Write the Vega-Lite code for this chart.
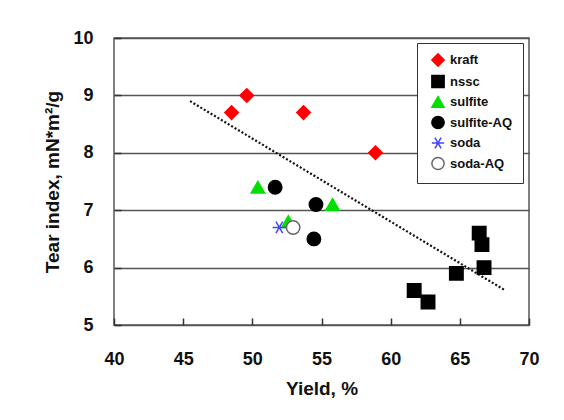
{
  "$schema": "https://vega.github.io/schema/vega-lite/v6.json",
  "width": 415,
  "height": 287,
  "autosize": {"type": "none"},
  "padding": {"left": 114, "top": 38, "right": 35, "bottom": 95},
  "background": "white",
  "config": {
    "font": "Liberation Sans",
    "view": {"stroke": "#555", "strokeWidth": 1.5}
  },
  "layer": [
    {
      "data": {
        "values": [
          {"process": "kraft", "yield": 48.5, "tear": 8.7},
          {"process": "kraft", "yield": 49.6, "tear": 9.0},
          {"process": "kraft", "yield": 53.7, "tear": 8.7},
          {"process": "kraft", "yield": 58.9, "tear": 8.0},
          {"process": "nssc", "yield": 61.7, "tear": 5.6},
          {"process": "nssc", "yield": 62.7, "tear": 5.4},
          {"process": "nssc", "yield": 64.75, "tear": 5.9},
          {"process": "nssc", "yield": 66.4, "tear": 6.6},
          {"process": "nssc", "yield": 66.6, "tear": 6.4},
          {"process": "nssc", "yield": 66.75, "tear": 6.0},
          {"process": "sulfite", "yield": 50.4, "tear": 7.4},
          {"process": "sulfite", "yield": 55.8, "tear": 7.1},
          {"process": "sulfite", "yield": 52.6, "tear": 6.8},
          {"process": "sulfite-AQ", "yield": 51.65, "tear": 7.4},
          {"process": "sulfite-AQ", "yield": 54.6, "tear": 7.1},
          {"process": "sulfite-AQ", "yield": 54.45, "tear": 6.5},
          {"process": "soda", "yield": 51.95, "tear": 6.7},
          {"process": "soda-AQ", "yield": 52.95, "tear": 6.7}
        ]
      },
      "mark": {"type": "point", "size": 180, "strokeWidth": 1.5, "opacity": 1, "fillOpacity": 1},
      "encoding": {
        "x": {
          "field": "yield", "type": "quantitative",
          "scale": {"domain": [40, 70], "nice": false, "zero": false},
          "axis": {
            "title": "Yield, %",
            "values": [40, 42.5, 45, 47.5, 50, 52.5, 55, 57.5, 60, 62.5, 65, 67.5, 70],
            "labelExpr": "datum.value % 5 === 0 ? format(datum.value, 'd') : ''",
            "grid": false, "domain": false,
            "offset": -7,
            "ticks": true, "tickSize": 7, "tickColor": "#333333", "tickWidth": 1.5, "tickOpacity": 1,
            "labelFontSize": 18, "labelFontWeight": "bold", "labelColor": "#111",
            "labelPadding": 25, "labelFlush": false,
            "titleFontSize": 19, "titleFontWeight": "bold", "titleColor": "#111",
            "titlePadding": 11,
            "zindex": 1
          }
        },
        "y": {
          "field": "tear", "type": "quantitative",
          "scale": {"domain": [5, 10], "nice": false, "zero": false},
          "axis": {
            "title": "Tear index, mN*m²/g",
            "values": [5, 5.5, 6, 6.5, 7, 7.5, 8, 8.5, 9, 9.5, 10],
            "labelExpr": "datum.value % 1 === 0 ? format(datum.value, 'd') : ''",
            "grid": true, "gridColor": "#555", "gridWidth": 1.5,
            "gridOpacity": {"condition": {"test": "datum.value % 1 === 0", "value": 1}, "value": 0},
            "domain": false,
            "offset": -7,
            "ticks": true, "tickSize": 7, "tickColor": "#333333", "tickWidth": 1.5, "tickOpacity": 1,
            "labelFontSize": 18, "labelFontWeight": "bold", "labelColor": "#111",
            "labelPadding": 21, "labelFlush": false,
            "titleFontSize": 19, "titleFontWeight": "bold", "titleColor": "#111",
            "titlePadding": 10
          }
        },
        "shape": {
          "field": "process", "type": "nominal",
          "scale": {
            "domain": ["kraft", "nssc", "sulfite", "sulfite-AQ", "soda", "soda-AQ"],
            "range": ["diamond", "square", "triangle-up", "circle", "M-1,0L1,0M-0.5,-0.866L0.5,0.866M-0.5,0.866L0.5,-0.866", "circle"]
          },
          "legend": {
            "title": null,
            "orient": "none", "legendX": 303, "legendY": 5,
            "strokeColor": "#333", "fillColor": "white",
            "padding": 10, "rowPadding": 1.5,
            "labelFontSize": 13, "labelFontWeight": "bold", "labelColor": "#111",
            "symbolSize": 150, "symbolStrokeWidth": 1.5,
            "labelOffset": 5, "symbolOffset": 4
          }
        },
        "fill": {
          "field": "process", "type": "nominal",
          "scale": {
            "domain": ["kraft", "nssc", "sulfite", "sulfite-AQ", "soda", "soda-AQ"],
            "range": ["#ff0000", "#000000", "#00e000", "#000000", "transparent", "#ffffff"]
          },
          "legend": {"title": null}
        },
        "stroke": {
          "field": "process", "type": "nominal",
          "scale": {
            "domain": ["kraft", "nssc", "sulfite", "sulfite-AQ", "soda", "soda-AQ"],
            "range": ["#ff0000", "#000000", "#00e000", "#000000", "#4444ff", "#666666"]
          },
          "legend": {"title": null}
        }
      }
    },
    {
      "data": {"values": [{"yield": 45.5, "tear": 8.9}, {"yield": 68.3, "tear": 5.6}]},
      "mark": {"type": "line", "color": "#111", "strokeDash": [2, 2], "strokeWidth": 2.2},
      "encoding": {
        "x": {"field": "yield", "type": "quantitative"},
        "y": {"field": "tear", "type": "quantitative"}
      }
    }
  ]
}
